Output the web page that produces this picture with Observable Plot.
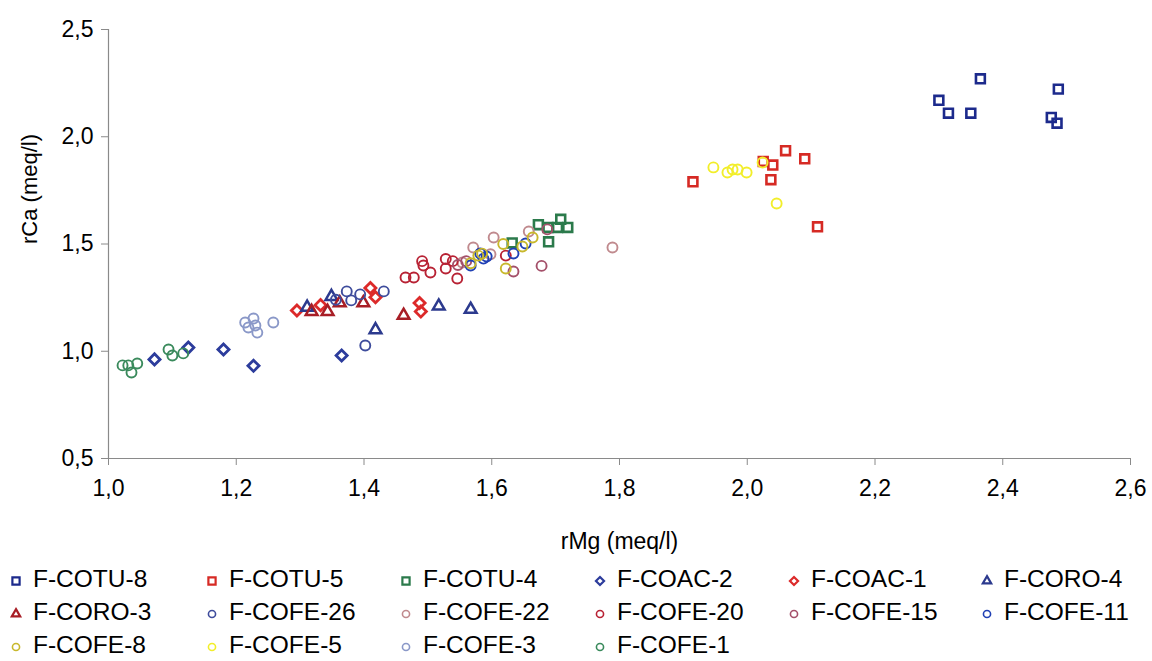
<!DOCTYPE html>
<html>
<head>
<meta charset="utf-8">
<script src="https://cdn.jsdelivr.net/npm/d3@7"></script>
<script src="https://cdn.jsdelivr.net/npm/@observablehq/plot@0.6"></script>
<style>
  html, body { margin: 0; padding: 0; background: #fff; }
  body { width: 1152px; height: 661px; overflow: hidden; font-family: "Liberation Sans", Arial, sans-serif; }
  #legend { position: relative; height: 96px; }
  .item { position: absolute; display: flex; align-items: center; font-size: 24.5px; color: #000; white-space: nowrap; height: 28px; }
  .item svg { display: block; }
</style>
</head>
<body>
<div id="chart"></div>
<div id="legend"></div>
<script>
// ---- data (rMg, rCa) in meq/l ----
const F_COTU_8 = [[2.300,2.170],[2.315,2.110],[2.350,2.110],[2.365,2.270],[2.487,2.222],[2.476,2.090],[2.485,2.063]];
const F_COTU_5 = [[1.915,1.790],[2.025,1.885],[2.040,1.868],[2.060,1.935],[2.090,1.897],[2.037,1.800],[2.110,1.580]];
const F_COTU_4 = [[1.632,1.505],[1.673,1.590],[1.688,1.577],[1.708,1.615],[1.703,1.577],[1.719,1.577],[1.689,1.510]];
const F_COAC_2 = [[1.072,0.962],[1.125,1.017],[1.180,1.008],[1.227,0.932],[1.365,0.980]];
const F_COAC_1 = [[1.295,1.190],[1.332,1.215],[1.410,1.295],[1.418,1.252],[1.487,1.225],[1.489,1.185]];
const F_CORO_4 = [[1.311,1.205],[1.349,1.255],[1.418,1.100],[1.517,1.210],[1.567,1.195]];
const F_CORO_3 = [[1.318,1.185],[1.343,1.185],[1.362,1.225],[1.399,1.225],[1.462,1.167]];
const F_COFE_26 = [[1.373,1.279],[1.380,1.237],[1.394,1.265],[1.431,1.279],[1.402,1.027],[1.356,1.240]];
const F_COFE_22 = [[1.554,1.414],[1.571,1.484],[1.603,1.530],[1.658,1.558],[1.789,1.484],[1.598,1.452]];
const F_COFE_20 = [[1.465,1.344],[1.478,1.344],[1.491,1.420],[1.493,1.400],[1.504,1.367],[1.528,1.430],[1.539,1.420],[1.528,1.386],[1.546,1.339],[1.622,1.446]];
const F_COFE_15 = [[1.547,1.402],[1.687,1.568],[1.678,1.398],[1.634,1.372],[1.560,1.420]];
const F_COFE_11 = [[1.567,1.400],[1.582,1.456],[1.587,1.432],[1.634,1.456],[1.653,1.502],[1.592,1.442]];
const F_COFE_8 = [[1.567,1.410],[1.579,1.446],[1.618,1.500],[1.622,1.386],[1.648,1.488],[1.664,1.530],[1.585,1.455]];
const F_COFE_5 = [[1.947,1.857],[1.969,1.833],[1.977,1.847],[1.985,1.847],[1.999,1.833],[2.024,1.880],[2.046,1.689]];
const F_COFE_3 = [[1.214,1.134],[1.227,1.153],[1.230,1.120],[1.233,1.087],[1.219,1.111],[1.258,1.134]];
const F_COFE_1 = [[1.022,0.934],[1.031,0.934],[1.036,0.901],[1.045,0.943],[1.094,1.008],[1.100,0.980],[1.117,0.990]];

const seriesNames = ["F-COTU-8","F-COTU-5","F-COTU-4","F-COAC-2","F-COAC-1","F-CORO-4",
  "F-CORO-3","F-COFE-26","F-COFE-22","F-COFE-20","F-COFE-15","F-COFE-11",
  "F-COFE-8","F-COFE-5","F-COFE-3","F-COFE-1"];
const seriesData = [F_COTU_8,F_COTU_5,F_COTU_4,F_COAC_2,F_COAC_1,F_CORO_4,
  F_CORO_3,F_COFE_26,F_COFE_22,F_COFE_20,F_COFE_15,F_COFE_11,
  F_COFE_8,F_COFE_5,F_COFE_3,F_COFE_1];
const seriesColors = ["#1c2a8c","#d62a24","#2b7a4b","#2c3c9c","#dc2a2a","#2c3a8e",
  "#a81e26","#3e4c9c","#c08a8e","#b82234","#a4506a","#2040b4",
  "#c8b82c","#f2ee2a","#8a98c8","#3a8a5c"];
const seriesSymbols = ["square","square","square","diamond2","diamond2","triangle2",
  "triangle2","circle","circle","circle","circle","circle",
  "circle","circle","circle","circle"];

const xTicks = [1.0,1.2,1.4,1.6,1.8,2.0,2.2,2.4,2.6];
const yTicks = [0.5,1.0,1.5,2.0,2.5];
const xLabel = "rMg (meq/l)";
const yLabel = "rCa (meq/l)";

const fmt = d => d3.format(".1f")(d).replace(".", ",");

const rows = seriesNames.flatMap((name, i) =>
  seriesData[i].map(([rMg, rCa]) => ({series: name, rMg, rCa})));

const symbolWidth = {square: 2.6, diamond2: 2.8, triangle2: 2.5, circle: 1.9};
const symbolR = {square: 5, diamond2: 5, triangle2: 5.6, circle: 5};

const marks = [
  Plot.ruleX([1.0], {stroke: "#8a8a8a", strokeWidth: 1.2}),
  Plot.ruleY([0.5], {stroke: "#8a8a8a", strokeWidth: 1.2}),
  Plot.axisX({ticks: xTicks, tickFormat: fmt, tickSize: 7, tickPadding: 14, fontSize: 23, stroke: "#8a8a8a",
    label: null}),
  Plot.axisY({ticks: yTicks, tickFormat: fmt, tickSize: 7, tickPadding: 8, fontSize: 23, stroke: "#8a8a8a",
    label: null}),
  Plot.text([xLabel], {frameAnchor: "bottom", dy: 90, fontSize: 23, fill: "#000"}),
  Plot.text([yLabel], {frameAnchor: "left", dx: -79, rotate: -90, fontSize: 22, fill: "#000"})
];
seriesNames.forEach((name, i) => {
  const sym = seriesSymbols[i];
  marks.push(Plot.dot(rows.filter(d => d.series === name), {
    x: "rMg", y: "rCa", symbol: () => sym, r: symbolR[sym],
    stroke: seriesColors[i], fill: "none", strokeWidth: symbolWidth[sym]
  }));
});

const chart = Plot.plot({
  width: 1152,
  height: 565,
  marginTop: 29,
  marginLeft: 108,
  marginRight: 22,
  marginBottom: 107,
  style: {fontFamily: "'Liberation Sans', Arial, sans-serif", color: "#000", background: "#fff"},
  x: {domain: [1.0, 2.6]},
  y: {domain: [0.5, 2.5]},
  symbol: {type: "identity"},
  marks
});
document.getElementById("chart").appendChild(chart);

// ---- legend ----
const colX = [6, 202, 396, 590, 784, 977];
const rowY = [0, 33, 66];
const symMap = {square: d3.symbolSquare, diamond2: d3.symbolDiamond2, triangle2: d3.symbolTriangle2, circle: d3.symbolCircle};
const legendSize = {square: 52, diamond2: 42, triangle2: 50, circle: 40};
const legend = d3.select("#legend");
seriesNames.forEach((name, i) => {
  const sym = seriesSymbols[i];
  const item = legend.append("div").attr("class", "item")
    .style("left", colX[i % 6] + "px").style("top", rowY[Math.floor(i / 6)] + "px");
  const svg = item.append("svg").attr("width", 20).attr("height", 28);
  svg.append("path")
    .attr("transform", "translate(10,16)")
    .attr("d", d3.symbol(symMap[sym], legendSize[sym])())
    .attr("fill", "none").attr("stroke", seriesColors[i]).attr("stroke-width", sym === "circle" ? 1.6 : 2.2);
  item.append("span").style("margin-left", "7px").text(name);
});
</script>
</body>
</html>
